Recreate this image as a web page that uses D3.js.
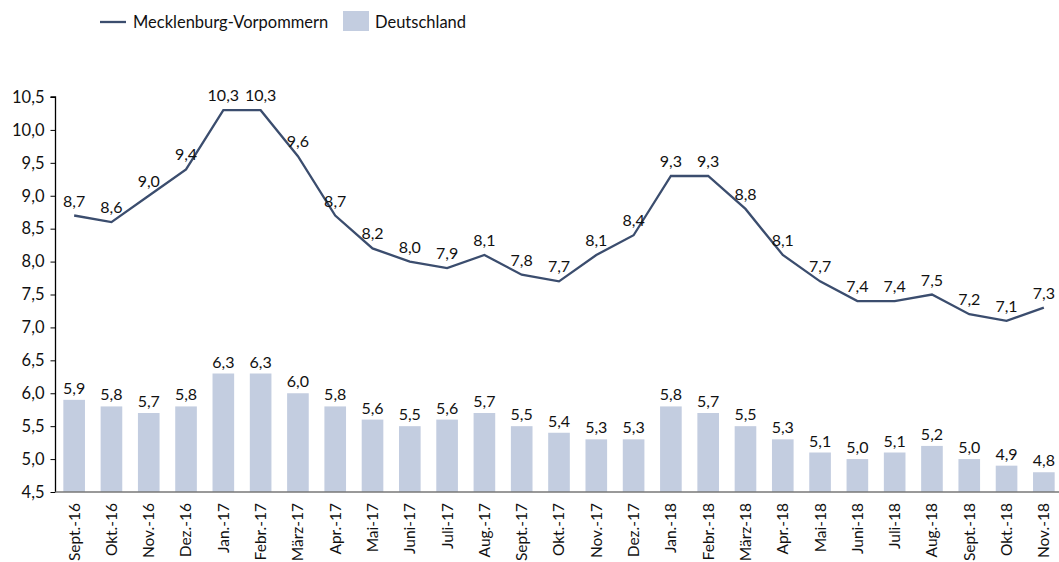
<!DOCTYPE html>
<html>
<head>
<meta charset="utf-8">
<script src="https://cdn.jsdelivr.net/npm/d3@7"></script>
<style>
    body { margin: 0; background: #fff; }
    svg { display: block; font-family: Lato, "Open Sans", sans-serif; }
</style>
</head>
<body>
<div id="chart"></div>
<script>
'use strict';

var months = ['Sept.-16', 'Okt.-16', 'Nov.-16', 'Dez.-16', 'Jan.-17', 'Febr.-17', 'März-17', 'Apr.-17', 'Mai-17',
    'Juni-17', 'Juli-17', 'Aug.-17', 'Sept.-17', 'Okt.-17', 'Nov.-17', 'Dez.-17', 'Jan.-18', 'Febr.-18', 'März-18',
    'Apr.-18', 'Mai-18', 'Juni-18', 'Juli-18', 'Aug.-18', 'Sept.-18', 'Okt.-18', 'Nov.-18'];

var mvValues = [8.7, 8.6, 9.0, 9.4, 10.3, 10.3, 9.6, 8.7, 8.2, 8.0, 7.9, 8.1, 7.8, 7.7, 8.1, 8.4, 9.3, 9.3, 8.8,
    8.1, 7.7, 7.4, 7.4, 7.5, 7.2, 7.1, 7.3];

var deValues = [5.9, 5.8, 5.7, 5.8, 6.3, 6.3, 6.0, 5.8, 5.6, 5.5, 5.6, 5.7, 5.5, 5.4, 5.3, 5.3, 5.8, 5.7, 5.5,
    5.3, 5.1, 5.0, 5.1, 5.2, 5.0, 4.9, 4.8];

var yTicks = [4.5, 5.0, 5.5, 6.0, 6.5, 7.0, 7.5, 8.0, 8.5, 9.0, 9.5, 10.0, 10.5];

var seriesNames = ['Mecklenburg-Vorpommern', 'Deutschland'];

(function () {
    var width = 1059,
        height = 562,
        plotLeft = 55.5,
        plotRight = 1062.5,
        plotTop = 97,
        plotBottom = 492,
        lineColor = '#3b4d6e',
        barColor = '#c3cde0',
        fmt = function (v) { return d3.format('.1f')(v).replace('.', ','); };

    var svg = d3.select('#chart').append('svg')
        .attr('width', width)
        .attr('height', height);

    var x = d3.scaleBand()
        .domain(months)
        .range([plotLeft, plotRight])
        .paddingInner(0.42)
        .paddingOuter(0.21);

    var y = d3.scaleLinear()
        .domain([4.5, 10.5])
        .range([plotBottom, plotTop]);

    var cx = function (d, i) { return x(months[i]) + x.bandwidth() / 2; };

    // Bars (Deutschland)
    svg.append('g').selectAll('rect')
        .data(deValues)
        .enter().append('rect')
        .attr('x', function (d, i) { return x(months[i]); })
        .attr('y', function (d) { return y(d); })
        .attr('width', x.bandwidth())
        .attr('height', function (d) { return plotBottom - y(d); })
        .attr('fill', barColor);

    svg.append('g').selectAll('text')
        .data(deValues)
        .enter().append('text')
        .attr('x', cx)
        .attr('y', function (d) { return y(d) - 6; })
        .attr('text-anchor', 'middle')
        .attr('font-size', 16)
        .attr('fill', '#111')
        .text(fmt);

    // Line (Mecklenburg-Vorpommern)
    var line = d3.line()
        .x(cx)
        .y(function (d) { return y(d); });

    svg.append('path')
        .datum(mvValues)
        .attr('d', line)
        .attr('fill', 'none')
        .attr('stroke', lineColor)
        .attr('stroke-width', 2.3);

    svg.append('g').selectAll('text')
        .data(mvValues)
        .enter().append('text')
        .attr('x', cx)
        .attr('y', function (d) { return y(d) - 9; })
        .attr('text-anchor', 'middle')
        .attr('font-size', 16)
        .attr('fill', '#111')
        .text(fmt);

    // Y axis
    var yAxis = svg.append('g')
        .attr('transform', 'translate(' + plotLeft + ',0)')
        .call(d3.axisLeft(y).tickValues(yTicks).tickSize(5).tickPadding(6).tickFormat(fmt));

    yAxis.selectAll('text').attr('font-size', 16.5).attr('fill', '#111').attr('font-family', 'Lato, sans-serif');
    yAxis.select('.domain').attr('stroke', '#000').attr('stroke-width', 1.3)
        .attr('d', 'M-5,' + plotTop + 'H0V' + plotBottom);
    yAxis.selectAll('.tick line').attr('stroke', '#000');

    // X axis
    var xAxis = svg.append('g')
        .attr('transform', 'translate(0,' + plotBottom + ')')
        .call(d3.axisBottom(x).tickSize(0).tickPadding(0));

    xAxis.select('.domain').attr('stroke', '#777').attr('stroke-width', 1.5)
        .attr('d', 'M' + plotLeft + ',0H' + plotRight);
    xAxis.selectAll('text')
        .attr('font-size', 15.5)
        .attr('fill', '#111')
        .attr('font-family', 'Lato, sans-serif')
        .attr('text-anchor', 'end')
        .attr('dy', '0.35em')
        .attr('transform', 'translate(0,11) rotate(-90)');

    // Legend
    var legend = svg.append('g').attr('font-size', 16.5).attr('fill', '#111');

    legend.append('line')
        .attr('x1', 100).attr('x2', 126)
        .attr('y1', 22).attr('y2', 22)
        .attr('stroke', lineColor)
        .attr('stroke-width', 2.3);

    legend.append('text').attr('x', 133).attr('y', 28).text(seriesNames[0]);

    legend.append('rect')
        .attr('x', 343).attr('y', 11)
        .attr('width', 26).attr('height', 20)
        .attr('fill', barColor);

    legend.append('text').attr('x', 375).attr('y', 28).text(seriesNames[1]);
})();
</script>
</body>
</html>
